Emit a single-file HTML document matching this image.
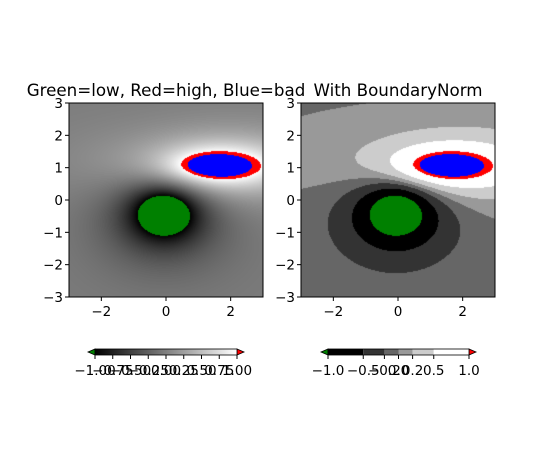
<!DOCTYPE html>
<html><head><meta charset="utf-8"><style>
body{margin:0;background:#fff;}
#fig{position:relative;width:550px;height:450px;font-family:"DejaVu Sans","Liberation Sans",sans-serif;}
canvas{position:absolute;}
.title{position:absolute;font-size:16.7px;white-space:nowrap;transform:translateX(-50%);}
</style></head><body>
<div id="fig">
<canvas id="c1" width="194" height="194" style="left:69px;top:103px"></canvas>
<canvas id="c2" width="194" height="194" style="left:301px;top:103px"></canvas>
<div class="title" style="left:166px;top:80px">Green=low, Red=high, Blue=bad</div>
<div class="title" style="left:398px;top:80px">With BoundaryNorm</div>
<svg id="ov" width="550" height="450" style="position:absolute;left:0;top:0"></svg>
</div>
<script>
// field parameters: [height, cx, cy, sx, sy]
const peakParams=[2.7,1.55,1.05,1.5,0.52];
const troughParams=[2.93,-0.05,-0.4,0.82,0.66];
const offset=[-0.03];
const maskLevel=[1.2];
const boundaries=[-1,-0.5,-0.2,0,0.2,0.5,1];
const boundaryGrays=[0,0.2,0.4,0.6,0.8,1];
const axisTicks=[-2,0,2];
const yTicks=[-3,-2,-1,0,1,2,3];
const cb1Ticks=[-1,-0.75,-0.5,-0.25,0,0.25,0.5,0.75,1];
const cb1Labels=["−1.00","−0.75","−0.50","−0.25","0.00","0.25","0.50","0.75","1.00"];
const cb2Labels=["−1.0","−0.5","−0.2","0.0","0.2","0.5","1.0"];

function cone(p,x,y){const dx=(x-p[1])/p[3],dy=(y-p[2])/p[4];return p[0]*Math.exp(-Math.sqrt(dx*dx+dy*dy));}
function Z(x,y){return cone(peakParams,x,y)-cone(troughParams,x,y)+offset[0];}
function color(z,mode){
  if(z>maskLevel[0])return [0,0,255];
  if(z>1)return [255,0,0];
  if(z<-1)return [0,128,0];
  let g;
  if(mode===1)g=(z+1)/2;
  else{let i=0;while(i<boundaries.length-2&&z>=boundaries[i+1])i++;g=boundaryGrays[i];}
  g=Math.round(g*255);return [g,g,g];
}
function draw(id,mode){
  const c=document.getElementById(id),ctx=c.getContext('2d'),im=ctx.createImageData(194,194);
  for(let j=0;j<194;j++)for(let i=0;i<194;i++){
    const x=-3+6*(i+0.5)/194,y=3-6*(j+0.5)/194;
    const col=color(Z(x,y),mode),k=(j*194+i)*4;
    im.data[k]=col[0];im.data[k+1]=col[1];im.data[k+2]=col[2];im.data[k+3]=255;}
  ctx.putImageData(im,0,0);
}
draw('c1',1);draw('c2',2);
const ov=document.getElementById('ov'),NS='http://www.w3.org/2000/svg';
function el(t,a){const e=document.createElementNS(NS,t);for(const k in a)e.setAttribute(k,a[k]);ov.appendChild(e);return e;}
function txt(s,x,y,anchor){const e=el('text',{x:x,y:y,'text-anchor':anchor,'font-size':'13.5','font-family':'DejaVu Sans, Liberation Sans, sans-serif'});e.textContent=s;return e;}
[69,301].forEach((L,ai)=>{
  const sx=v=>L+(v+3)/6*194, sy=v=>297-(v+3)/6*194;
  const f=el('rect',{x:L,y:103,width:194,height:194,fill:'none',stroke:'#000','stroke-width':1});
  
  
  axisTicks.forEach(v=>{el('line',{x1:sx(v),x2:sx(v),y1:297,y2:301,stroke:'#000'});
    const t=txt(v<0?'−'+(-v):''+v,sx(v),316,'middle');
    
    });
  yTicks.forEach(v=>{el('line',{x1:L-4,x2:L,y1:sy(v),y2:sy(v),stroke:'#000'});
    const t=txt(v<0?'−'+(-v):''+v,L-6,sy(v)+5,'end');
    
    });
});
const g1=el('defs',{});
const lg=document.createElementNS(NS,'linearGradient');lg.setAttribute('id','gg');
[['0%','#000'],['100%','#fff']].forEach(s=>{const st=document.createElementNS(NS,'stop');st.setAttribute('offset',s[0]);st.setAttribute('stop-color',s[1]);lg.appendChild(st);});
g1.appendChild(lg);
function cbar(x0,x1){
  el('polygon',{points:`${x0},349 ${x0},355 ${x0-7},352`,fill:'#008000',stroke:'#000','stroke-width':0.8});
  el('polygon',{points:`${x1},349 ${x1},355 ${x1+7},352`,fill:'#f00',stroke:'#000','stroke-width':0.8});
}
cbar(95,237);
const r1=el('rect',{x:95,y:349,width:142,height:6,fill:'url(#gg)',stroke:'#000','stroke-width':0.8});


const cx1=v=>95+(v+1)/2*142;
cb1Ticks.forEach((v,i)=>{el('line',{x1:cx1(v),x2:cx1(v),y1:355,y2:359,stroke:'#000'});
  const t=txt(cb1Labels[i],cx1(v),375,'middle');
  
  });
cbar(328,469);
const cx2=v=>328+(v+1)/2*141;
for(let i=0;i<boundaryGrays.length;i++){const g=Math.round(boundaryGrays[i]*255);
  const r=el('rect',{x:cx2(boundaries[i]),y:349,width:cx2(boundaries[i+1])-cx2(boundaries[i]),height:6,fill:`rgb(${g},${g},${g})`});
  
  }
el('rect',{x:328,y:349,width:141,height:6,fill:'none',stroke:'#000','stroke-width':0.8});
boundaries.forEach((v,i)=>{el('line',{x1:cx2(v),x2:cx2(v),y1:355,y2:359,stroke:'#000'});
  const t=txt(cb2Labels[i],cx2(v),375,'middle');
  
  });
</script>
</body></html>
